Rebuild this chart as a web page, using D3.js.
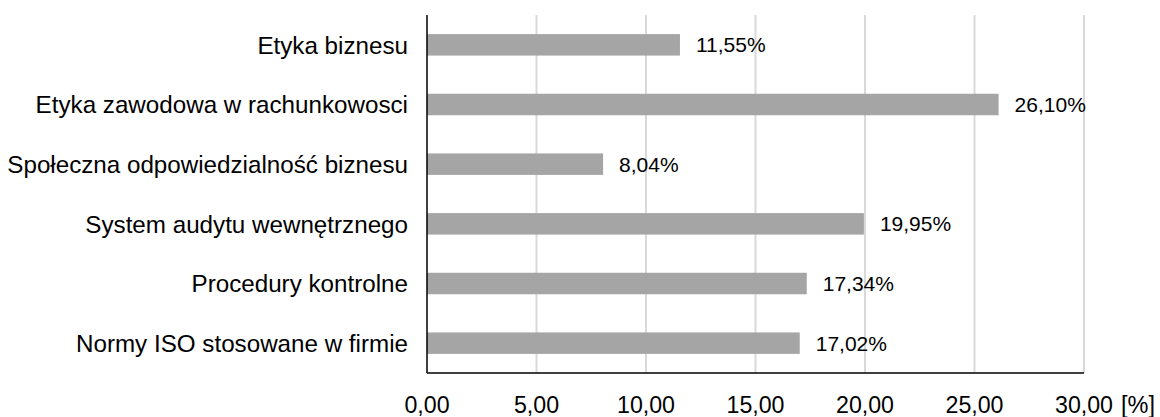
<!DOCTYPE html>
<html><head><meta charset="utf-8">
<script src="https://cdn.jsdelivr.net/npm/d3@7"></script>
<style>body{margin:0;background:#fff;} text{font-family:"Liberation Sans",Arial,sans-serif;}</style>
</head><body>
<svg id="c" width="1160" height="417"></svg>
<script>
const categories = ["Etyka biznesu","Etyka zawodowa w rachunkowosci","Społeczna odpowiedzialność biznesu","System audytu wewnętrznego","Procedury kontrolne","Normy ISO stosowane w firmie"];
const values = [11.55, 26.10, 8.04, 19.95, 17.34, 17.02];
const tickValues = [0,5,10,15,20,25,30];
const unitLabel = "[%]";

(function(){
const svg = d3.select("#c");
const pL = 427, pR = 1084, pT = 15, pB = 373;
const x = d3.scaleLinear().domain([0,30]).range([pL,pR]);
const y = d3.scaleBand().domain(categories).range([pT,pB]).paddingInner(0.64).paddingOuter(0.32);
const fmt = v => v.toFixed(2).replace(".", ",");

svg.append("g").selectAll("line").data(tickValues.filter(d=>d>0)).join("line")
  .attr("x1",d=>x(d)).attr("x2",d=>x(d)).attr("y1",pT).attr("y2",pB)
  .attr("stroke","#d9d9d9").attr("stroke-width",2);

svg.append("g").selectAll("rect").data(values).join("rect")
  .attr("x",x(0)).attr("y",(d,i)=>y(categories[i]))
  .attr("width",d=>x(d)-x(0)).attr("height",y.bandwidth())
  .attr("fill","#a5a5a5");

svg.append("g").selectAll("text").data(values).join("text")
  .attr("x",d=>x(d)+16).attr("y",(d,i)=>y(categories[i])+y.bandwidth()/2)
  .attr("dy","0.36em").attr("font-size",21).attr("fill","#000")
  .text(d=>fmt(d)+"%");

svg.append("line").attr("x1",pL).attr("x2",pL).attr("y1",pT).attr("y2",pB).attr("stroke","#000").attr("stroke-width",1.5);
svg.append("line").attr("x1",pL).attr("x2",pR).attr("y1",pB).attr("y2",pB).attr("stroke","#000").attr("stroke-width",1.5);

svg.append("g").selectAll("text").data(categories).join("text")
  .attr("x",408).attr("y",d=>y(d)+y.bandwidth()/2).attr("dy","0.36em")
  .attr("text-anchor","end").attr("font-size",24.2).attr("fill","#000").text(d=>d);

svg.append("g").selectAll("text").data(tickValues).join("text")
  .attr("x",d=>x(d)).attr("y",413).attr("text-anchor","middle")
  .attr("font-size",23.2).attr("fill","#000").text(d=>fmt(d));
svg.append("text").attr("x",1121).attr("y",413).attr("font-size",23.5).attr("fill","#000").text(unitLabel);
})();
</script>
</body></html>
